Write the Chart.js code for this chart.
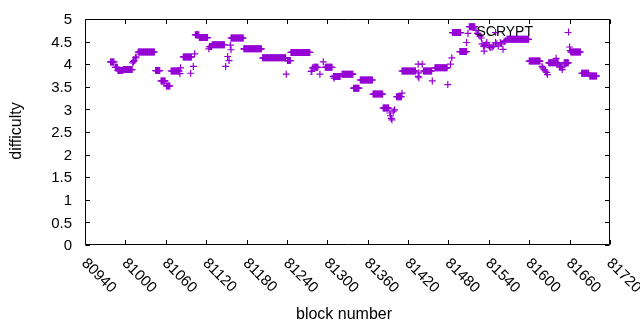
<!DOCTYPE html>
<html>
<head>
<meta charset="utf-8">
<script src="https://cdn.jsdelivr.net/npm/chart.js@4/dist/chart.umd.min.js"></script>
<style>
  html, body { margin: 0; padding: 0; background: #fff; }
  #c { display: block; }
</style>
</head>
<body>
<canvas id="c" width="640" height="330"></canvas>
<script>
// ---- data ----
const seriesName = 'SCRYPT';
const xTickLabels = [80940, 81000, 81060, 81120, 81180, 81240, 81300, 81360, 81420, 81480, 81540, 81600, 81660, 81720];
const yTickLabels = [0, 0.5, 1, 1.5, 2, 2.5, 3, 3.5, 4, 4.5, 5];

const blocks = [
  80978, 80979, 80980, 80981, 80982, 80983,
  80985, 80986, 80987, 80988,
  80989, 80990, 80991, 80992, 80993, 80994, 80995, 80996,
  80997, 80998, 80999, 81000, 81001, 81002, 81003, 81004, 81005, 81006,
  81007, 81008, 81009, 81010,
  81011, 81012, 81013, 81015, 81016,
  81019, 81020, 81021, 81022, 81023, 81024, 81025, 81026, 81027, 81028,
  81029, 81030, 81031, 81032, 81033, 81034, 81035, 81036, 81037, 81038,
  81039, 81040, 81041, 81042, 81043,
  81045, 81046, 81047, 81048, 81049, 81050, 81051,
  81053, 81054, 81055, 81056, 81057, 81058, 81059,
  81061, 81062, 81063, 81064, 81065, 81066,
  81068, 81069, 81070, 81071, 81072, 81073, 81074, 81075, 81076, 81077,
  81078, 81079, 81080,
  81081, 81082,
  81086, 81087, 81088, 81089, 81090, 81091, 81092, 81093, 81094, 81095,
  81096, 81097, 81098,
  81097, 81101, 81103,
  81104, 81105, 81106, 81107, 81108, 81109,
  81110, 81111, 81112, 81113, 81114, 81115, 81116, 81117, 81118, 81119,
  81120, 81121, 81122,
  81124, 81125, 81126, 81127, 81128,
  81129, 81130, 81131, 81132, 81133, 81134, 81135, 81136, 81137, 81138,
  81139, 81140, 81141, 81142, 81143, 81144, 81145, 81146, 81147,
  81149, 81152, 81154, 81157, 81156,
  81157, 81158, 81159, 81160, 81161, 81162, 81163, 81164, 81165, 81166,
  81167, 81168, 81169, 81170, 81171, 81172, 81173, 81174, 81175,
  81176, 81177, 81178, 81179, 81180, 81181, 81182, 81183, 81184, 81185,
  81186, 81187, 81188, 81189, 81190, 81191, 81192, 81193, 81194, 81195,
  81196, 81197, 81198, 81199, 81200, 81201, 81202,
  81204, 81205, 81206, 81207, 81208, 81209, 81210, 81211, 81212, 81213,
  81214, 81215, 81216, 81217, 81218, 81219, 81220, 81221, 81222, 81223,
  81224, 81225, 81226, 81227, 81228, 81229, 81230, 81231, 81232, 81233,
  81234, 81235, 81236, 81237, 81238,
  81239,
  81241, 81242, 81243, 81244, 81245,
  81246, 81247, 81248, 81249, 81250, 81251, 81252, 81253, 81254, 81255,
  81256, 81257, 81258, 81259, 81260, 81261, 81262, 81263, 81264, 81265,
  81266, 81267, 81268, 81269, 81270, 81271, 81272, 81273, 81274,
  81276, 81277, 81278, 81280, 81281, 81282, 81283, 81284, 81285, 81286,
  81289, 81294,
  81297, 81298, 81299, 81300, 81301, 81302, 81303, 81304, 81305, 81306,
  81307,
  81309, 81310, 81311, 81312, 81313, 81314, 81315, 81316, 81317, 81318,
  81319, 81310,
  81322, 81323, 81324, 81325, 81326, 81327, 81328, 81329, 81330, 81331,
  81332, 81333, 81334, 81335, 81336, 81337, 81338,
  81339, 81340, 81341, 81342, 81343, 81344, 81345, 81346, 81347,
  81349, 81350, 81351, 81352, 81353, 81354, 81355, 81356, 81357, 81358,
  81359, 81360, 81361, 81362, 81363, 81364, 81365, 81366, 81367,
  81368, 81369, 81370, 81371, 81372, 81373, 81374, 81375, 81376, 81377,
  81378, 81379, 81380, 81381, 81382,
  81383, 81384, 81385, 81386, 81387, 81388, 81389, 81390, 81391,
  81393, 81394, 81395, 81396, 81398, 81400,
  81403, 81404, 81405, 81406, 81407, 81408, 81409, 81410, 81411,
  81411, 81412, 81413, 81414, 81415, 81416, 81417, 81418, 81419, 81420,
  81421, 81422, 81423, 81424, 81425, 81426, 81427, 81428, 81429, 81430,
  81431,
  81435, 81435, 81436, 81436, 81441,
  81443, 81444, 81445, 81446, 81447, 81448, 81449, 81450, 81451, 81452,
  81453, 81454, 81455,
  81456,
  81460, 81461, 81462, 81463, 81464, 81465, 81466, 81467, 81468, 81469,
  81470, 81471, 81472, 81473, 81474, 81475, 81476, 81477, 81478,
  81479, 81483, 81485,
  81486, 81487, 81488, 81489, 81490, 81491, 81492, 81493, 81494, 81495,
  81496, 81497, 81498,
  81497, 81498, 81499, 81500, 81501, 81502, 81503, 81504, 81505, 81506,
  81507,
  81507, 81509,
  81511, 81512, 81513, 81514, 81515, 81516, 81517, 81518, 81519,
  81521, 81523, 81525, 81527, 81529,
  81530, 81532, 81533, 81534, 81536, 81537, 81539, 81541, 81543, 81545,
  81547, 81550, 81550, 81552, 81554, 81557, 81559, 81561, 81563, 81565,
  81567, 81568, 81569, 81570, 81571, 81572, 81573, 81574, 81575, 81576,
  81577, 81578, 81579, 81580, 81581, 81582, 81583, 81584, 81585, 81586,
  81587, 81588, 81589, 81590, 81591, 81592, 81593, 81594, 81595, 81596,
  81597, 81598, 81599,
  81600, 81601, 81602, 81603, 81604, 81605, 81606, 81607, 81608, 81609,
  81610, 81611, 81612, 81613, 81614, 81615, 81616,
  81619, 81620, 81622, 81624, 81626, 81627,
  81629, 81630, 81631, 81632, 81633, 81634, 81635, 81636, 81637, 81638,
  81639, 81640, 81641, 81642, 81643,
  81640,
  81645, 81646, 81647, 81648, 81649, 81650,
  81652, 81653, 81654, 81655, 81656, 81657, 81658,
  81660, 81661,
  81662, 81663, 81664, 81665, 81666, 81667, 81668, 81669, 81670, 81671,
  81672, 81673, 81674, 81675, 81676,
  81678, 81679, 81680, 81681, 81682, 81683, 81684, 81685, 81686, 81687,
  81688,
  81690, 81691, 81692, 81693, 81694, 81695, 81696, 81697, 81698, 81699,
  81700
];

const difficulty = [
  4.05, 4.05, 4.05, 4.05, 4.05, 4.05,
  3.93, 3.93, 3.93, 3.93,
  3.86, 3.86, 3.86, 3.86, 3.86, 3.86, 3.86, 3.86,
  3.88, 3.88, 3.88, 3.88, 3.88, 3.88, 3.88, 3.88, 3.88, 3.88,
  3.88, 3.88, 3.88, 3.88,
  4.03, 4.06, 4.08, 4.14, 4.16,
  4.27, 4.27, 4.27, 4.27, 4.27, 4.27, 4.27, 4.27, 4.27, 4.27,
  4.27, 4.27, 4.27, 4.27, 4.27, 4.27, 4.27, 4.27, 4.27, 4.27,
  4.27, 4.27, 4.27, 4.27, 4.27,
  3.86, 3.86, 3.86, 3.86, 3.86, 3.86, 3.86,
  3.63, 3.63, 3.63, 3.63, 3.63, 3.63, 3.63,
  3.52, 3.52, 3.52, 3.52, 3.52, 3.52,
  3.85, 3.85, 3.85, 3.85, 3.85, 3.85, 3.85, 3.85, 3.85, 3.85,
  3.85, 3.85, 3.85,
  3.79, 3.92,
  4.16, 4.16, 4.16, 4.16, 4.16, 4.16, 4.16, 4.16, 4.16, 4.16,
  4.16, 4.16, 4.16,
  3.80, 3.95, 4.23,
  4.65, 4.65, 4.65, 4.65, 4.65, 4.65,
  4.59, 4.59, 4.59, 4.59, 4.59, 4.59, 4.59, 4.59, 4.59, 4.59,
  4.59, 4.59, 4.59,
  4.34, 4.39, 4.39, 4.39, 4.39,
  4.43, 4.43, 4.43, 4.43, 4.43, 4.43, 4.43, 4.43, 4.43, 4.43,
  4.43, 4.43, 4.43, 4.43, 4.43, 4.43, 4.43, 4.43, 4.43,
  3.95, 4.17, 4.08, 4.32, 4.42,
  4.58, 4.58, 4.58, 4.58, 4.58, 4.58, 4.58, 4.58, 4.58, 4.58,
  4.58, 4.58, 4.58, 4.58, 4.58, 4.58, 4.58, 4.58, 4.58,
  4.34, 4.34, 4.34, 4.34, 4.34, 4.34, 4.34, 4.34, 4.34, 4.34,
  4.34, 4.34, 4.34, 4.34, 4.34, 4.34, 4.34, 4.34, 4.34, 4.34,
  4.34, 4.34, 4.34, 4.34, 4.34, 4.34, 4.34,
  4.14, 4.14, 4.14, 4.14, 4.14, 4.14, 4.14, 4.14, 4.14, 4.14,
  4.14, 4.14, 4.14, 4.14, 4.14, 4.14, 4.14, 4.14, 4.14, 4.14,
  4.14, 4.14, 4.14, 4.14, 4.14, 4.14, 4.14, 4.14, 4.14, 4.14,
  4.14, 4.14, 4.14, 4.14, 4.14,
  3.78,
  4.08, 4.08, 4.08, 4.08, 4.08,
  4.26, 4.26, 4.26, 4.26, 4.26, 4.26, 4.26, 4.26, 4.26, 4.26,
  4.26, 4.26, 4.26, 4.26, 4.26, 4.26, 4.26, 4.26, 4.26, 4.26,
  4.26, 4.26, 4.26, 4.26, 4.26, 4.26, 4.26, 4.26, 4.26,
  3.84, 3.84, 3.92, 3.93, 3.93, 3.93, 3.93, 3.93, 3.93, 3.93,
  3.78, 4.05,
  3.93, 3.93, 3.93, 3.93, 3.93, 3.93, 3.93, 3.93, 3.93, 3.93,
  3.93,
  3.73, 3.73, 3.73, 3.73, 3.73, 3.73, 3.73, 3.73, 3.73, 3.73,
  3.73, 3.69,
  3.78, 3.78, 3.78, 3.78, 3.78, 3.78, 3.78, 3.78, 3.78, 3.78,
  3.78, 3.78, 3.78, 3.78, 3.78, 3.78, 3.78,
  3.47, 3.47, 3.47, 3.47, 3.47, 3.47, 3.47, 3.47, 3.47,
  3.65, 3.65, 3.65, 3.65, 3.65, 3.65, 3.65, 3.65, 3.65, 3.65,
  3.65, 3.65, 3.65, 3.65, 3.65, 3.65, 3.65, 3.65, 3.65,
  3.34, 3.34, 3.34, 3.34, 3.34, 3.34, 3.34, 3.34, 3.34, 3.34,
  3.34, 3.34, 3.34, 3.34, 3.34,
  3.03, 3.03, 3.03, 3.03, 3.03, 3.03, 3.03, 3.03, 3.03,
  2.92, 2.86, 2.80, 2.77, 2.96, 2.99,
  3.28, 3.28, 3.28, 3.28, 3.28, 3.28, 3.28, 3.28, 3.36,
  3.85, 3.85, 3.85, 3.85, 3.85, 3.85, 3.85, 3.85, 3.85, 3.85,
  3.85, 3.85, 3.85, 3.85, 3.85, 3.85, 3.85, 3.85, 3.85, 3.85,
  3.85,
  4.00, 3.73, 3.81, 3.70, 4.00,
  3.85, 3.85, 3.85, 3.85, 3.85, 3.85, 3.85, 3.85, 3.85, 3.85,
  3.85, 3.85, 3.85,
  3.63,
  3.92, 3.92, 3.92, 3.92, 3.92, 3.92, 3.92, 3.92, 3.92, 3.92,
  3.92, 3.92, 3.92, 3.92, 3.92, 3.92, 3.92, 3.92, 3.92,
  3.55, 4.00, 4.14,
  4.70, 4.70, 4.70, 4.70, 4.70, 4.70, 4.70, 4.70, 4.70, 4.70,
  4.70, 4.70, 4.70,
  4.28, 4.28, 4.28, 4.28, 4.28, 4.28, 4.28, 4.28, 4.28, 4.28,
  4.28,
  4.48, 4.68,
  4.83, 4.83, 4.83, 4.83, 4.83, 4.83, 4.83, 4.83, 4.83,
  4.75, 4.68, 4.66, 4.62, 4.58,
  4.45, 4.40, 4.29, 4.42, 4.44, 4.48, 4.42, 4.38, 4.37, 4.38,
  4.40, 4.48, 4.70, 4.45, 4.40, 4.48, 4.45, 4.33, 4.50, 4.52,
  4.55, 4.55, 4.55, 4.55, 4.55, 4.55, 4.55, 4.55, 4.55, 4.55,
  4.55, 4.55, 4.55, 4.55, 4.55, 4.55, 4.55, 4.55, 4.55, 4.55,
  4.55, 4.55, 4.55, 4.55, 4.55, 4.55, 4.55, 4.55, 4.55, 4.55,
  4.55, 4.55, 4.55,
  4.07, 4.07, 4.07, 4.07, 4.07, 4.07, 4.07, 4.07, 4.07, 4.07,
  4.07, 4.07, 4.07, 4.07, 4.07, 4.07, 4.07,
  3.95, 3.92, 3.88, 3.85, 3.82, 3.77,
  4.03, 4.03, 4.03, 4.03, 4.03, 4.03, 4.03, 4.03, 4.03, 4.03,
  4.03, 4.03, 4.03, 4.03, 4.03,
  4.13,
  3.94, 3.94, 3.94, 3.94, 3.88, 3.94,
  4.03, 4.03, 4.03, 4.03, 4.03, 4.03, 4.03,
  4.38, 4.30,
  4.27, 4.27, 4.27, 4.27, 4.27, 4.27, 4.27, 4.27, 4.27, 4.27,
  4.27, 4.27, 4.27, 4.27, 4.27,
  3.80, 3.80, 3.80, 3.80, 3.80, 3.80, 3.80, 3.80, 3.80, 3.80,
  3.80,
  3.74, 3.74, 3.74, 3.74, 3.74, 3.74, 3.74, 3.74, 3.74, 3.74,
  3.74
];

// ---- drawing ----
const PURPLE = '#9400D3';
const FONT = '"Liberation Sans", Arial, sans-serif';
const points = blocks.map((b, i) => ({ x: b, y: difficulty[i] }));

const gnuplotFrame = {
  id: 'gnuplotFrame',
  afterDraw(chart) {
    const { ctx, chartArea: a } = chart;
    const xs = chart.scales.x, ys = chart.scales.y;
    ctx.save();
    ctx.strokeStyle = '#000';
    ctx.lineWidth = 1;
    const L = Math.round(a.left) + 0.5, R = Math.round(a.right) - 0.5;
    const T = Math.round(a.top) + 0.5, B = Math.round(a.bottom) - 0.5;
    ctx.beginPath();
    ctx.rect(L, T, R - L, B - T);
    ctx.stroke();
    const tl = 4.5;
    ctx.beginPath();
    xTickLabels.forEach(v => {
      const px = Math.round(xs.getPixelForValue(v)) + 0.5;
      ctx.moveTo(px, B); ctx.lineTo(px, B - tl);
      ctx.moveTo(px, T); ctx.lineTo(px, T + tl);
    });
    yTickLabels.forEach(v => {
      const py = Math.round(ys.getPixelForValue(v)) + 0.5;
      ctx.moveTo(L, py); ctx.lineTo(L + tl, py);
      ctx.moveTo(R, py); ctx.lineTo(R - tl, py);
    });
    ctx.stroke();

    ctx.fillStyle = '#000';
    ctx.font = '15px ' + FONT;
    // y tick labels
    ctx.textAlign = 'right';
    ctx.textBaseline = 'middle';
    yTickLabels.forEach(v => {
      ctx.fillText(String(v), 72, ys.getPixelForValue(v) + 1);
    });
    // x tick labels rotated by -45 (gnuplot style)
    ctx.textAlign = 'left';
    xTickLabels.forEach(v => {
      const px = xs.getPixelForValue(v);
      ctx.save();
      ctx.translate(px - 1, 261);
      ctx.rotate(Math.PI / 4);
      ctx.fillText(String(v), 0, 0);
      ctx.restore();
    });
    // axis titles
    ctx.font = '16px ' + FONT;
    ctx.textAlign = 'center';
    ctx.fillText('block number', 344, 315);
    ctx.save();
    ctx.translate(17, 131);
    ctx.rotate(-Math.PI / 2);
    ctx.fillText('difficulty', 0, 0);
    ctx.restore();
    // key
    ctx.font = '14px ' + FONT;
    ctx.textAlign = 'right';
    ctx.fillText(seriesName, 533, 32);
    ctx.strokeStyle = PURPLE;
    ctx.lineWidth = 1.2;
    ctx.beginPath();
    ctx.moveTo(568 - 3.5, 32.5); ctx.lineTo(568 + 3.5, 32.5);
    ctx.moveTo(568.5, 32 - 3.5); ctx.lineTo(568.5, 32 + 3.5);
    ctx.stroke();
    ctx.restore();
  }
};

new Chart(document.getElementById('c'), {
  type: 'scatter',
  data: {
    datasets: [{
      label: seriesName,
      data: points,
      pointStyle: 'cross',
      pointRadius: 3.5,
      pointBorderWidth: 1.2,
      borderColor: PURPLE,
      backgroundColor: PURPLE,
      showLine: false
    }]
  },
  options: {
    responsive: false,
    animation: false,
    events: [],
    layout: { padding: { left: 85, right: 30, top: 19, bottom: 85 } },
    plugins: { legend: { display: false }, tooltip: { enabled: false } },
    scales: {
      x: { type: 'linear', min: 80940, max: 81720, display: false },
      y: { type: 'linear', min: 0, max: 5, display: false }
    }
  },
  plugins: [gnuplotFrame]
});
</script>
</body>
</html>
